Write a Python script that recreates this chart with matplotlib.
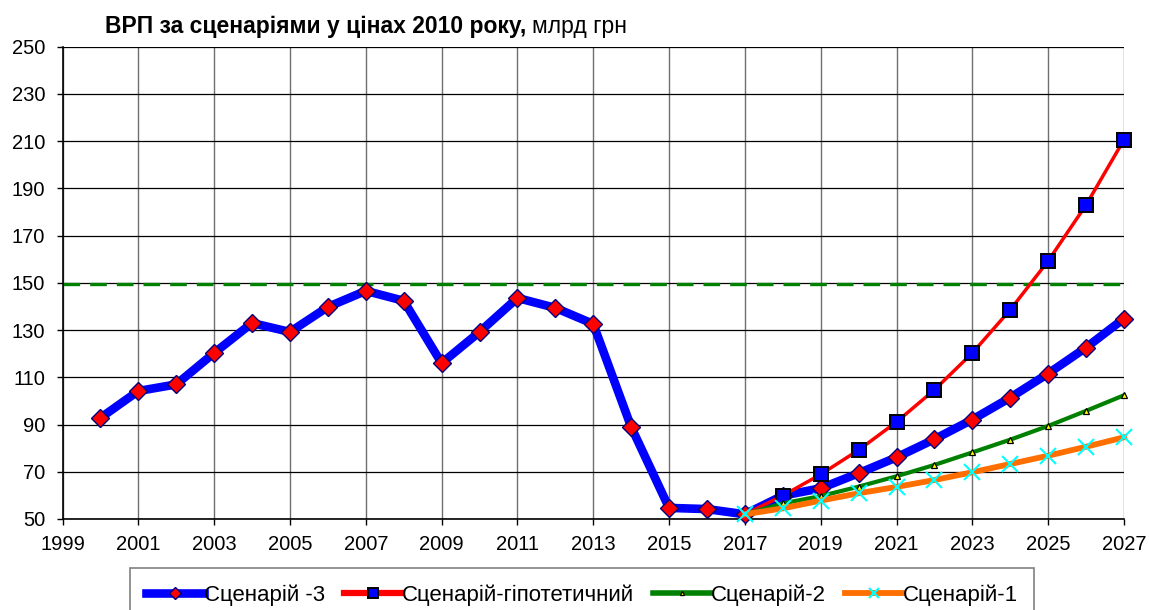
import numpy as np
import matplotlib

matplotlib.use('Agg')
import matplotlib.pyplot as plt

plt.rcParams['font.family'] = ['Liberation Sans', 'DejaVu Sans']

years_hist = list(range(2000, 2028))
years_fc = list(range(2017, 2028))

# ВРП, млрд грн у цінах 2010 року
scen3 = [92.8, 104.2, 107.0, 120.3, 133.0, 129.2, 139.8, 146.6, 142.4, 116.0,
         129.2, 143.6, 139.4, 132.6, 89.0, 54.7, 54.2, 52.0,
         59.9, 63.0, 69.4, 76.1, 83.8, 92.1, 101.4, 111.6, 122.6, 134.9]
scen_hyp = [52.0, 59.9, 68.9, 79.2, 91.1, 104.7, 120.3, 138.6, 159.3, 183.0, 210.6]
scen2 = [52.0, 56.6, 59.7, 63.7, 68.1, 72.9, 78.2, 83.6, 89.4, 95.8, 102.4]
scen1 = [52.0, 54.5, 57.8, 60.9, 63.6, 66.5, 69.8, 73.3, 76.8, 80.6, 84.6]
level_2008 = 149.6

fig = plt.figure(figsize=(11.49, 6.10), dpi=100)
ax = fig.add_axes([62.5 / 1149, 1 - 519 / 610, 1061.5 / 1149, 472.3 / 610])

ax.axhline(level_2008, color='#008000', lw=2.4, ls=(0, (5, 3)), zorder=1.5)

ax.plot(years_hist, scen3, color='#0000ff', lw=6.2, marker='D', ms=9.5,
        mfc='#ff0000', mec='#000080', mew=1, solid_joinstyle='round',
        label='Сценарій -3', zorder=3, clip_on=False)
ax.plot(years_fc, scen_hyp, color='#ff0000', lw=2.5, marker='s', ms=10,
        mfc='#0000ff', mec='#000000', mew=1.4, markevery=list(range(1, 11)),
        label='Сценарій-гіпотетичний', zorder=4, clip_on=False)
ax.plot(years_fc, scen2, color='#008000', lw=3, marker='^', ms=4.5,
        mfc='#ffff00', mec='#000000', mew=0.9, markevery=list(range(1, 11)),
        label='Сценарій-2', zorder=4, clip_on=False)
ax.plot(years_fc, scen1, color='#ff6f00', lw=4.2, marker='x', ms=12,
        mec='#00ffff', mew=1.5, label='Сценарій-1', zorder=4, clip_on=False)

ax.set_xlim(1999, 2027)
ax.set_ylim(50, 250)
ax.set_xticks(np.arange(1999, 2028, 2))
ax.set_yticks(np.arange(50, 251, 20))
ax.tick_params(labelsize=14.5, length=4.5, width=1, colors='black', direction='out')
ax.tick_params(axis='y', pad=8)
ax.tick_params(axis='x', pad=7)
ax.xaxis.grid(True, color='#707070', lw=1)
ax.yaxis.grid(True, color='#000000', lw=0.9)
ax.set_axisbelow(True)
for side in ['top', 'right']:
    ax.spines[side].set_visible(False)
for side in ['left', 'bottom']:
    ax.spines[side].set_color('black')
    ax.spines[side].set_linewidth(1.2)

t1 = fig.text(105 / 1149, 1 - 33.3 / 610, 'ВРП за сценаріями у цінах 2010 року,',
              fontsize=16.5, fontweight='bold', ha='left', va='baseline')
fig.canvas.draw()
bb = t1.get_window_extent()
fig.text((bb.x1 + 6) / 1149, 1 - 33.3 / 610, 'млрд грн', fontsize=16.5,
         ha='left', va='baseline')

leg = fig.legend(loc='upper center', bbox_to_anchor=(582 / 1149, 1 - 568 / 610), ncol=4,
                 fontsize=16, frameon=True, fancybox=False, edgecolor='#606060',
                 handlelength=2.6, handletextpad=0.0, columnspacing=0.85,
                 borderpad=0.75, borderaxespad=0, markerscale=0.65)
leg.get_frame().set_linewidth(1.2)
for h in leg.legend_handles:
    if h.get_color() == '#ff0000':
        h.set_linewidth(4.5)
    elif h.get_color() == '#008000':
        h.set_linewidth(4)

fig.savefig('out.png', dpi=100)
